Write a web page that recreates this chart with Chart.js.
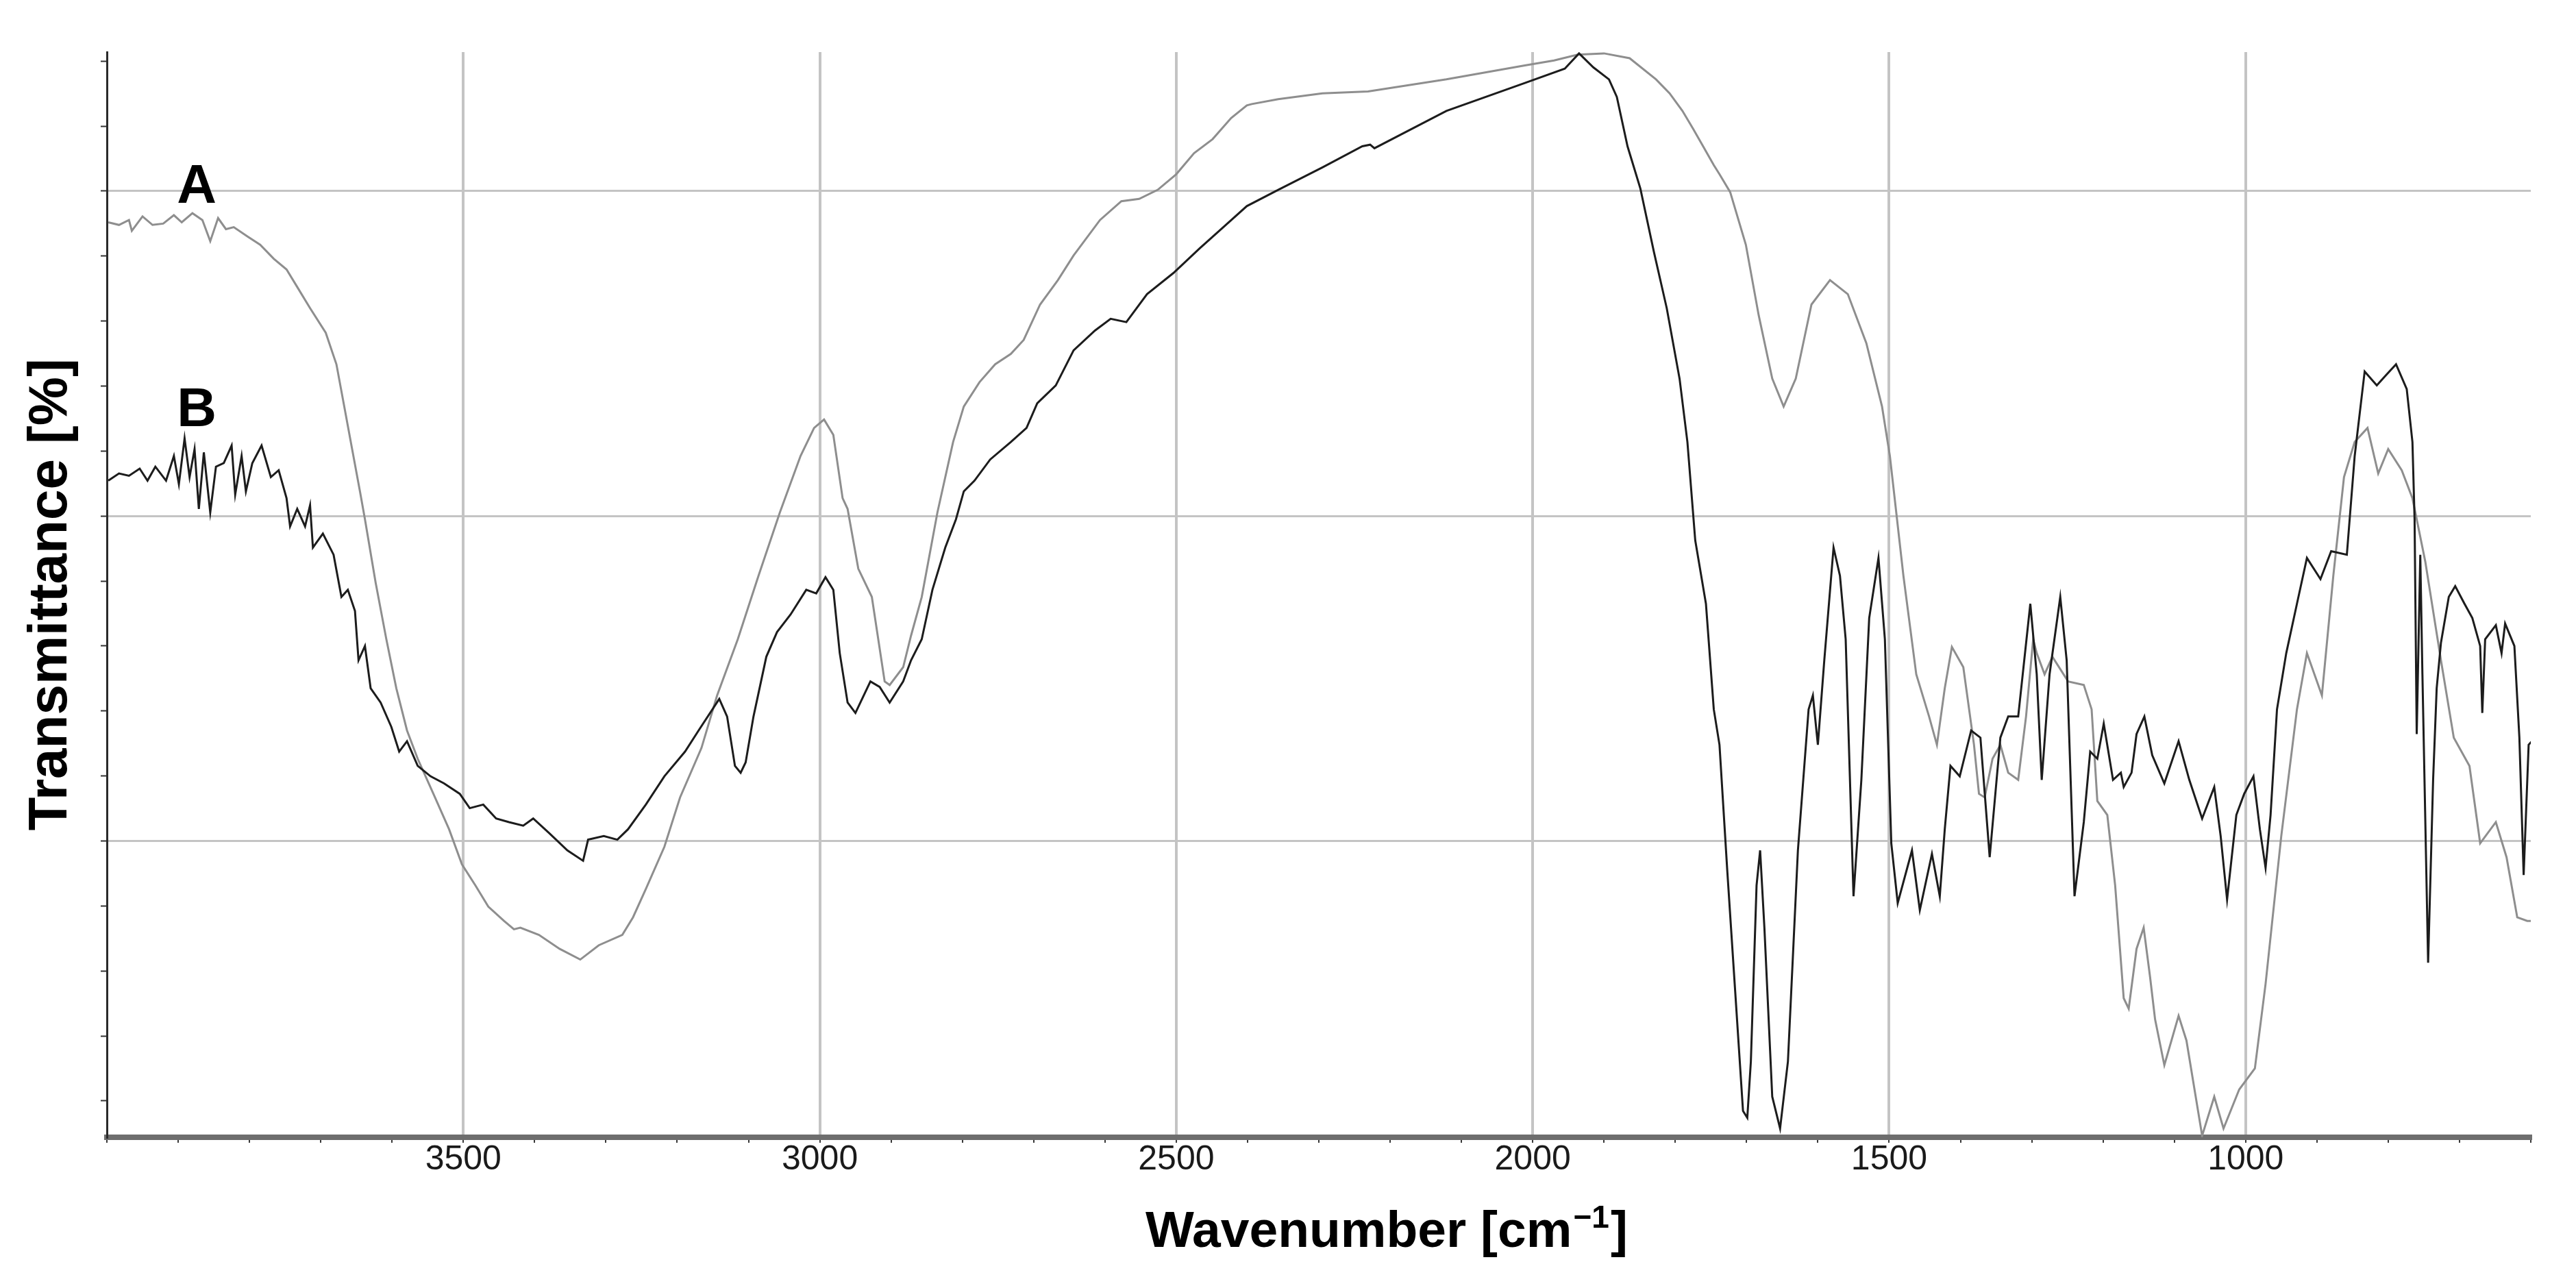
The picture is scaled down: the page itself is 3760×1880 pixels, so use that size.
<!DOCTYPE html>
<html>
<head>
<meta charset="utf-8">
<script src="https://cdn.jsdelivr.net/npm/chart.js@4.4.0/dist/chart.umd.min.js"></script>
<style>
  html, body { margin: 0; padding: 0; background: #fff; }
</style>
</head>
<body>
<canvas id="chart" width="3760" height="1880"></canvas>
<script>
// spectrum A (grey trace): wavenumber [cm-1] and transmittance (arbitrary units)
const waveA = [3998, 3983, 3969, 3965, 3950, 3936, 3921, 3906, 3895, 3880, 3866, 3855, 3844, 3833, 3822, 3803, 3785, 3766, 3748, 3733,
  3715, 3693, 3678, 3667, 3656, 3645, 3638, 3623, 3608, 3594, 3579, 3564, 3542, 3520, 3502, 3483, 3465, 3443, 3429,
  3420, 3394, 3365, 3336, 3310, 3277, 3262, 3244, 3218, 3196, 3166, 3144, 3115, 3086, 3056, 3027, 3008, 2994, 2981,
  2968, 2961, 2946, 2927, 2909, 2902, 2883,
  2872, 2857, 2835, 2813, 2798, 2776, 2754, 2732, 2714, 2691, 2666, 2644, 2607, 2577, 2552, 2526, 2500, 2475, 2449,
  2423, 2401, 2394, 2357, 2295,
  2231, 2121, 2011, 1970, 1937, 1900, 1864, 1827, 1808, 1790, 1775, 1761, 1746,
  1738, 1723, 1701, 1683, 1664, 1648, 1631, 1609, 1583, 1558, 1532, 1510, 1499, 1480, 1462, 1444, 1433, 1422, 1412,
  1396, 1381, 1374, 1366, 1355, 1344, 1333, 1319, 1308, 1298, 1293, 1282, 1271, 1249, 1227, 1216, 1208, 1194, 1183,
  1171, 1164, 1153, 1143, 1134, 1127, 1114, 1094, 1083, 1061, 1044, 1031, 1009, 987, 972, 950, 928, 914, 893, 877,
  862, 847, 829, 814, 800, 781, 766, 748, 726, 708, 686, 671, 649, 634, 619, 605, 594];
const transA = [39.04, 38.96, 39.11, 38.78, 39.22, 38.96, 39.0, 39.26, 39.04, 39.32, 39.11, 38.46, 39.17, 38.83, 38.89, 38.61, 38.35, 37.92, 37.59, 37.05,
  36.4, 35.64, 34.67, 33.37, 32.06, 30.76, 29.9, 27.95, 26.21, 24.7, 23.4, 22.53, 21.45, 20.36, 19.28, 18.63, 17.98, 17.54, 17.28,
  17.33, 17.11, 16.68, 16.35, 16.79, 17.11, 17.65, 18.52, 19.82, 21.34, 22.86, 24.48, 26.21, 28.16, 30.11, 31.85, 32.71, 32.97, 32.5,
  30.55, 30.22, 28.38, 27.51, 24.91, 24.8, 25.35,
  26.32, 27.51, 30.11, 32.28, 33.37, 34.12, 34.67, 34.99, 35.42, 36.51, 37.26, 38.02, 39.11, 39.69, 39.76, 40.04, 40.52, 41.17, 41.6,
  42.25, 42.64, 42.68, 42.83, 43.01,
  43.07, 43.44, 43.87, 44.02, 44.2, 44.24, 44.09, 43.44, 43.01, 42.47, 41.92, 41.38, 40.8,
  40.52, 39.97, 38.35, 36.18, 34.23, 33.37, 34.23, 36.51, 37.26, 36.83, 35.32, 33.37, 31.85, 28.16, 25.13, 23.83, 22.96, 24.7, 25.97,
  25.35, 22.96, 21.45, 21.34, 22.53, 22.96, 22.1, 21.88, 23.83, 26.21, 25.78, 25.13, 25.67, 24.91, 24.8, 24.05, 21.23, 20.8, 18.63,
  15.16, 14.84, 16.68, 17.33, 15.81, 14.51, 13.1, 14.62, 13.86, 10.93, 12.13, 11.15, 12.35, 13.0, 15.6, 20.15, 24.05, 25.78, 24.48, 28.16,
  31.2, 32.28, 32.71, 31.31, 32.06, 31.41, 30.55, 28.6, 25.56, 23.18, 22.31, 19.93, 20.58, 19.5, 17.65, 17.54, 17.54];

// spectrum B (dark trace)
const waveB = [3998, 3983, 3969, 3954, 3943, 3932, 3917, 3906, 3899, 3891, 3884, 3877, 3871, 3864, 3855, 3847, 3836, 3825, 3820, 3811,
  3805, 3796, 3783, 3770, 3759, 3748, 3743, 3733, 3722, 3715, 3711, 3697, 3682, 3671, 3662, 3652, 3647, 3638, 3630, 3616,
  3601, 3590, 3579, 3564, 3546, 3527, 3505, 3491, 3472, 3454, 3436,
  3416, 3402, 3380, 3354, 3332, 3325, 3303, 3284, 3269, 3244, 3218, 3189, 3170, 3141, 3130, 3119, 3111, 3104, 3093, 3075,
  3060, 3041, 3019, 3005, 2992, 2981, 2972, 2961, 2950, 2929, 2916, 2902, 2883,
  2872, 2857, 2842, 2824, 2809, 2798, 2783, 2761, 2732, 2710, 2695, 2669, 2644, 2614, 2592, 2570, 2541, 2504, 2467, 2434,
  2401, 2357, 2295,
  2239, 2228, 2222, 2121, 2011, 1955, 1935, 1915, 1893, 1882, 1867, 1849, 1830, 1812, 1794, 1783, 1772, 1757, 1746,
  1738, 1727, 1716, 1705, 1699, 1694, 1686, 1681, 1675, 1664, 1653, 1642, 1628, 1613, 1607, 1600, 1591, 1578, 1569, 1561,
  1550, 1539, 1528, 1515, 1506, 1497, 1488, 1468, 1457, 1440, 1429, 1422, 1414, 1401, 1385, 1372, 1359, 1344, 1333, 1319,
  1302, 1293, 1286, 1275, 1260, 1251, 1240, 1227, 1218, 1208, 1199, 1186, 1175,
  1171, 1160, 1153, 1142, 1131, 1114, 1094, 1079, 1061, 1044, 1035, 1026, 1013, 1002, 989, 980, 972, 965, 956, 943,
  928, 914, 895, 880, 858, 847, 833, 816, 803, 789, 774, 766, 763, 760, 755, 752, 744, 737, 732, 726,
  715, 706, 693, 682, 671, 668, 664, 649, 641, 636, 623, 616, 610, 603, 594];
const transB = [31.09, 31.31, 31.24, 31.46, 31.09, 31.52, 31.09, 31.85, 30.98, 32.39, 31.2, 32.06, 30.22, 31.96, 30.11, 31.52, 31.63, 32.17, 30.66, 31.85,
  30.76, 31.63, 32.17, 31.2, 31.41, 30.55, 29.68, 30.22, 29.68, 30.33, 29.03, 29.46, 28.81, 27.51, 27.73, 27.08, 25.56, 26.0, 24.7, 24.26,
  23.51, 22.75, 23.07, 22.31, 21.99, 21.77, 21.45, 21.01, 21.12, 20.69, 20.58,
  20.47, 20.69, 20.25, 19.71, 19.39, 20.04, 20.15, 20.04, 20.36, 21.12, 21.99, 22.75, 23.4, 24.37, 23.83, 22.31, 22.1, 22.42, 23.83, 25.67,
  26.43, 26.97, 27.73, 27.62, 28.12, 27.73, 25.78, 24.26, 23.94, 24.91, 24.74, 24.26, 24.91,
  25.56, 26.21, 27.73, 29.03, 29.9, 30.76, 31.09, 31.74, 32.28, 32.71, 33.47, 34.02, 35.1, 35.71, 36.07, 35.97, 36.83, 37.48, 38.24, 38.89,
  39.54, 40.04, 40.73,
  41.38, 41.43, 41.32, 42.47, 43.33, 43.77, 44.24, 43.81, 43.44, 42.9, 41.38, 40.08, 38.13, 36.4, 34.23, 32.28, 29.25, 27.3, 24.05,
  22.96, 19.06, 15.38, 11.69, 11.48, 13.21, 18.63, 19.71, 17.33, 12.13, 11.15, 13.21, 19.71, 24.05, 24.48, 22.96, 25.56, 29.03, 28.16, 26.21,
  18.3, 21.88, 26.86, 28.71, 26.21, 19.93, 18.09, 19.71, 17.87, 19.6, 18.3, 20.36, 22.31, 21.99, 23.4, 23.18, 19.5, 23.18, 23.83, 23.83,
  27.3, 25.13, 21.88, 25.13, 27.51, 25.56, 18.3, 20.58, 22.75, 22.53, 23.61, 21.88, 22.1,
  21.66, 22.1, 23.29, 23.83, 22.64, 21.77, 23.07, 21.88, 20.69, 21.66, 20.15, 18.2, 20.8, 21.45, 21.99, 20.36, 19.17, 20.8, 24.05, 25.78,
  27.3, 28.71, 28.06, 28.92, 28.81, 31.85, 34.45, 34.02, 34.34, 34.67, 33.91, 32.28, 29.9, 23.29, 28.81, 25.13, 16.25, 21.88, 24.7, 26.1,
  27.51, 27.84, 27.3, 26.86, 26.0, 23.94, 26.21, 26.64, 25.78, 26.69, 26.0, 23.18, 18.95, 22.96, 23.18];

// labelled wavenumber ticks and the three horizontal grid levels
const xMajorTicks = [1000, 1500, 2000, 2500, 3000, 3500];
const yMajorTicks = [20, 30, 40];

// curve names written next to the traces
const curveLabels = ['A', 'B'];
const labelWave = [3874, 3874];
const labelTrans = [39.65, 32.76];

const FONT = '"Liberation Sans", Arial, Helvetica, sans-serif';

function toPoints(xs, ys) {
  return xs.map(function (x, i) { return { x: x, y: ys[i] }; });
}

// draws the A / B tags and the two axis titles
const annotate = {
  id: 'annotate',
  afterDraw: function (chart) {
    const ctx = chart.ctx;
    const xs = chart.scales.x;
    const ys = chart.scales.y;
    ctx.save();
    ctx.fillStyle = '#000';
    ctx.textAlign = 'center';
    ctx.textBaseline = 'alphabetic';
    ctx.font = 'bold 80px ' + FONT;
    for (let i = 0; i < curveLabels.length; i++) {
      ctx.fillText(curveLabels[i], xs.getPixelForValue(labelWave[i]), ys.getPixelForValue(labelTrans[i]));
    }

    // y title, rotated
    ctx.save();
    ctx.translate(97, (chart.chartArea.top + chart.chartArea.bottom) / 2);
    ctx.rotate(-Math.PI / 2);
    ctx.font = 'bold 80px ' + FONT;
    ctx.fillText('Transmittance [%]', 0, 0);
    ctx.restore();

    // x title with superscript -1
    const part1 = 'Wavenumber [cm';
    const sup = '\u22121';
    const part2 = ']';
    ctx.font = 'bold 75px ' + FONT;
    const w1 = ctx.measureText(part1).width;
    const w3 = ctx.measureText(part2).width;
    ctx.font = 'bold 46px ' + FONT;
    const w2 = ctx.measureText(sup).width;
    let x0 = 2022 - (w1 + w2 + w3) / 2;
    const base = 1820;
    ctx.textAlign = 'left';
    ctx.font = 'bold 75px ' + FONT;
    ctx.fillText(part1, x0, base);
    ctx.font = 'bold 46px ' + FONT;
    ctx.fillText(sup, x0 + w1 + 2, base - 28);
    ctx.font = 'bold 75px ' + FONT;
    ctx.fillText(part2, x0 + w1 + w2 + 4, base);
    ctx.restore();
  }
};

const ctx = document.getElementById('chart').getContext('2d');
const myChart = new Chart(ctx, {
  type: 'line',
  data: {
    datasets: [
      {
        label: 'B',
        data: toPoints(waveB, transB),
        borderColor: '#1c1c1c',
        borderWidth: 3,
        pointRadius: 0,
        tension: 0,
        order: 0
      },
      {
        label: 'A',
        data: toPoints(waveA, transA),
        borderColor: '#8e8e8e',
        borderWidth: 3,
        pointRadius: 0,
        tension: 0,
        order: 1
      }
    ]
  },
  options: {
    responsive: false,
    animation: false,
    devicePixelRatio: 1,
    layout: { padding: { top: 76, right: 66, left: 0, bottom: 0 } },
    plugins: {
      legend: { display: false },
      tooltip: { enabled: false }
    },
    scales: {
      x: {
        type: 'linear',
        reverse: true,
        min: 600,
        max: 4000,
        afterBuildTicks: function (scale) {
          const t = [];
          for (let v = 600; v <= 4000; v += 100) t.push({ value: v });
          scale.ticks = t;
        },
        afterFit: function (scale) { scale.height = 220; },
        grid: {
          color: function (c) { return c.tick && xMajorTicks.includes(c.tick.value) ? '#c4c4c4' : 'rgba(0,0,0,0)'; },
          lineWidth: 4,
          tickColor: '#3a3a3a',
          tickLength: 8,
          tickWidth: 2
        },
        border: { color: '#6e6e6e', width: 8 },
        ticks: {
          autoSkip: false,
          maxRotation: 0,
          padding: 0,
          color: '#1a1a1a',
          font: { size: 50, family: FONT, lineHeight: 1 },
          callback: function (v) { return xMajorTicks.includes(v) ? String(v) : ''; }
        }
      },
      y: {
        type: 'linear',
        min: 10.88,
        max: 44.28,
        afterBuildTicks: function (scale) {
          const t = [];
          for (let v = 12; v <= 44; v += 2) t.push({ value: v });
          scale.ticks = t;
        },
        afterFit: function (scale) { scale.width = 156; },
        grid: {
          color: function (c) { return c.tick && yMajorTicks.includes(c.tick.value) ? '#c4c4c4' : 'rgba(0,0,0,0)'; },
          lineWidth: 3,
          tickColor: '#333',
          tickLength: 9,
          tickWidth: 2
        },
        border: { color: '#2a2a2a', width: 3 },
        ticks: { display: false }
      }
    }
  },
  plugins: [annotate]
});
</script>
</body>
</html>
